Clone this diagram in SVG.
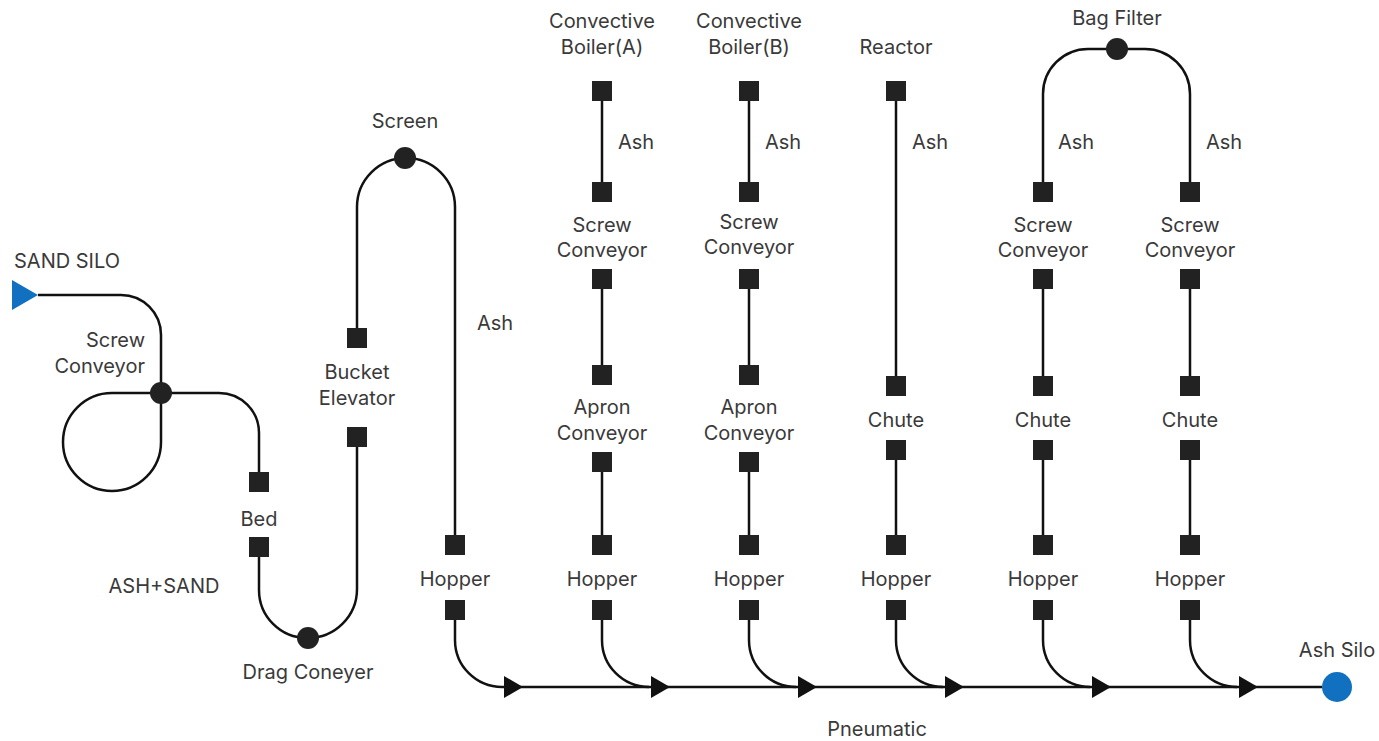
<svg xmlns="http://www.w3.org/2000/svg" width="1379" height="741" viewBox="0 0 1379 741">
<style>
.t{font-family:Inter,"Noto Sans","Liberation Sans",sans-serif;font-size:20px;fill:#3a3a3a;text-anchor:middle}
.s{text-anchor:start}
.e{text-anchor:end}
.ln{fill:none;stroke:#111;stroke-width:2.5}
.sq{fill:#222}
.dot{fill:#222}
.blue{fill:#1170c0}
</style>
<defs>
<rect id="sq" class="sq" x="-10" y="-10" width="20" height="20"/>
<polygon id="ar" points="0,-11 19,0 0,11" fill="#111"/>
</defs>
<rect width="1379" height="741" fill="#fff"/>
<g id="connectors">
<path class="ln" d="M38,295 H121 A40,40 0 0 1 161,335 V393"/>
<path class="ln" d="M161,393 V442 A49,49 0 0 1 112,491 A49,49 0 0 1 63,442 A49,49 0 0 1 112,393 H161"/>
<path class="ln" d="M161,393 H219 A40,40 0 0 1 259,433 V472"/>
<path class="ln" d="M259,557 V590 A48,48 0 0 0 307,638"/>
<path class="ln" d="M308,638 A49,49 0 0 0 357,589 V447"/>
<path class="ln" d="M357,328 V207 A49,49 0 0 1 455,207 V535"/>
<path class="ln" d="M1043,182 V94 A45,45 0 0 1 1088,49 H1145 A45,45 0 0 1 1190,94 V182"/>
<path class="ln" d="M602,101 V182 M602,289 V365 M602,472 V535"/>
<path class="ln" d="M749,101 V182 M749,289 V365 M749,472 V535"/>
<path class="ln" d="M896,101 V376 M896,460 V535"/>
<path class="ln" d="M1043,289 V376 M1043,460 V535"/>
<path class="ln" d="M1190,289 V376 M1190,460 V535"/>
<path class="ln" d="M455,620 V640 A47,47 0 0 0 502,687"/>
<path class="ln" d="M602,620 V640 A47,47 0 0 0 649,687"/>
<path class="ln" d="M749,620 V640 A47,47 0 0 0 796,687"/>
<path class="ln" d="M896,620 V640 A47,47 0 0 0 943,687"/>
<path class="ln" d="M1043,620 V640 A47,47 0 0 0 1090,687"/>
<path class="ln" d="M1190,620 V640 A47,47 0 0 0 1237,687"/>
<path class="ln" d="M502,687 H1322"/>
<use href="#ar" x="504" y="687"/>
<use href="#ar" x="651" y="687"/>
<use href="#ar" x="798" y="687"/>
<use href="#ar" x="945" y="687"/>
<use href="#ar" x="1092" y="687"/>
<use href="#ar" x="1239" y="687"/>
<text class="t s" x="477" y="330">Ash</text>
<text class="t s" x="618" y="149">Ash</text>
<text class="t s" x="765" y="149">Ash</text>
<text class="t s" x="912" y="149">Ash</text>
<text class="t s" x="1058" y="149">Ash</text>
<text class="t s" x="1206" y="149">Ash</text>
<text class="t" x="877" y="736">Pneumatic</text>
<text class="t" x="164" y="593">ASH+SAND</text>
</g>
<g id="sand-silo"><polygon class="blue" points="12,280 12,310 38,295"/><text class="t s" x="14" y="268">SAND SILO</text></g>
<g id="screw-conveyor-1"><circle class="dot" cx="161" cy="393" r="11"/><text class="t e" x="145" y="347">Screw</text><text class="t e" x="145" y="373">Conveyor</text></g>
<g id="bed"><use href="#sq" x="259" y="482"/><use href="#sq" x="259" y="547"/><text class="t" x="259" y="526">Bed</text></g>
<g id="drag-conveyer"><circle class="dot" cx="308" cy="638" r="11"/><text class="t" x="308" y="679">Drag Coneyer</text></g>
<g id="bucket-elevator"><use href="#sq" x="357" y="338"/><use href="#sq" x="357" y="437"/><text class="t" x="357" y="379">Bucket</text><text class="t" x="357" y="405">Elevator</text></g>
<g id="screen"><circle class="dot" cx="405" cy="158" r="11"/><text class="t" x="405" y="128">Screen</text></g>
<g id="hopper-1"><use href="#sq" x="455" y="545"/><use href="#sq" x="455" y="610"/><text class="t" x="455" y="586">Hopper</text></g>
<g id="boiler-a"><use href="#sq" x="602" y="91"/><text class="t" x="602" y="28">Convective</text><text class="t" x="602" y="54">Boiler(A)</text></g>
<g id="screw-a"><use href="#sq" x="602" y="192"/><use href="#sq" x="602" y="279"/><text class="t" x="602" y="232">Screw</text><text class="t" x="602" y="257">Conveyor</text></g>
<g id="apron-a"><use href="#sq" x="602" y="375"/><use href="#sq" x="602" y="462"/><text class="t" x="602" y="414">Apron</text><text class="t" x="602" y="440">Conveyor</text></g>
<g id="hopper-a"><use href="#sq" x="602" y="545"/><use href="#sq" x="602" y="610"/><text class="t" x="602" y="586">Hopper</text></g>
<g id="boiler-b"><use href="#sq" x="749" y="91"/><text class="t" x="749" y="28">Convective</text><text class="t" x="749" y="54">Boiler(B)</text></g>
<g id="screw-b"><use href="#sq" x="749" y="192"/><use href="#sq" x="749" y="279"/><text class="t" x="749" y="229">Screw</text><text class="t" x="749" y="254">Conveyor</text></g>
<g id="apron-b"><use href="#sq" x="749" y="375"/><use href="#sq" x="749" y="462"/><text class="t" x="749" y="414">Apron</text><text class="t" x="749" y="440">Conveyor</text></g>
<g id="hopper-b"><use href="#sq" x="749" y="545"/><use href="#sq" x="749" y="610"/><text class="t" x="749" y="586">Hopper</text></g>
<g id="reactor"><use href="#sq" x="896" y="91"/><text class="t" x="896" y="54">Reactor</text></g>
<g id="chute-r"><use href="#sq" x="896" y="386"/><use href="#sq" x="896" y="450"/><text class="t" x="896" y="427">Chute</text></g>
<g id="hopper-r"><use href="#sq" x="896" y="545"/><use href="#sq" x="896" y="610"/><text class="t" x="896" y="586">Hopper</text></g>
<g id="bag-filter"><circle class="dot" cx="1117" cy="49" r="11"/><text class="t" x="1117" y="25">Bag Filter</text></g>
<g id="screw-c"><use href="#sq" x="1043" y="192"/><use href="#sq" x="1043" y="279"/><text class="t" x="1043" y="232">Screw</text><text class="t" x="1043" y="257">Conveyor</text></g>
<g id="chute-c"><use href="#sq" x="1043" y="386"/><use href="#sq" x="1043" y="450"/><text class="t" x="1043" y="427">Chute</text></g>
<g id="hopper-c"><use href="#sq" x="1043" y="545"/><use href="#sq" x="1043" y="610"/><text class="t" x="1043" y="586">Hopper</text></g>
<g id="screw-d"><use href="#sq" x="1190" y="192"/><use href="#sq" x="1190" y="279"/><text class="t" x="1190" y="232">Screw</text><text class="t" x="1190" y="257">Conveyor</text></g>
<g id="chute-d"><use href="#sq" x="1190" y="386"/><use href="#sq" x="1190" y="450"/><text class="t" x="1190" y="427">Chute</text></g>
<g id="hopper-d"><use href="#sq" x="1190" y="545"/><use href="#sq" x="1190" y="610"/><text class="t" x="1190" y="586">Hopper</text></g>
<g id="ash-silo"><circle class="blue" cx="1337" cy="687" r="15"/><text class="t" x="1337" y="657">Ash Silo</text></g>
</svg>
